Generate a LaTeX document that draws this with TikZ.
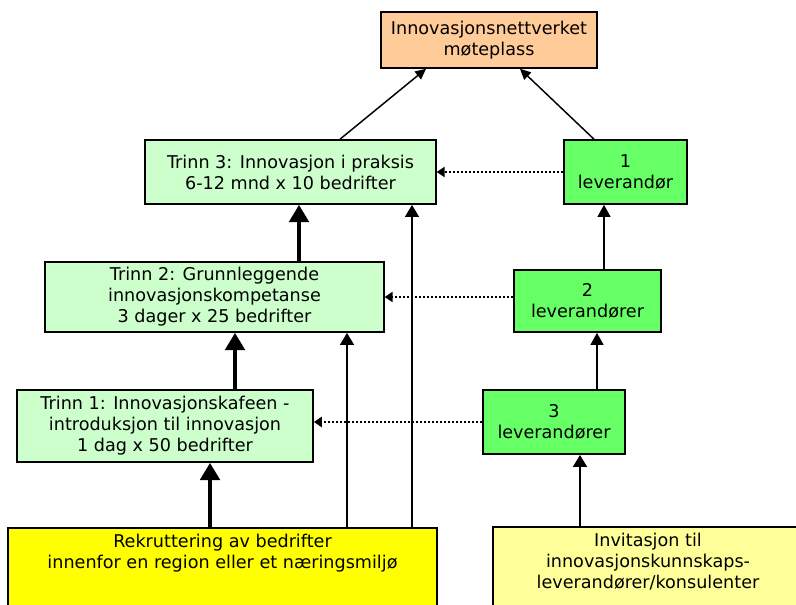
\documentclass[tikz,border=0pt]{standalone}
\usepackage{fontspec}
\setmainfont{DejaVu Sans}
\usetikzlibrary{arrows.meta}

\definecolor{moteorange}{HTML}{FFCC99}
\definecolor{trinngreen}{HTML}{CCFFCC}
\definecolor{levgreen}{HTML}{66FF66}
\definecolor{rekyellow}{HTML}{FFFF00}
\definecolor{invyellow}{HTML}{FFFF99}

\begin{document}
\begin{tikzpicture}[x=0.75pt,y=-0.75pt,
	box/.style={draw,line width=1.2pt,align=center,inner sep=0pt,
		font=\fontsize{13.2}{15.8}\selectfont},
	trinn/.style={box,fill=trinngreen},
	lev/.style={box,fill=levgreen},
	fat/.style={-{Triangle[width=14.5pt,length=13pt]},line width=3.7pt},
	mid/.style={-{Triangle[width=10pt,length=9pt]},line width=2.2pt},
	slim/.style={-{Triangle[width=9.5pt,length=9pt]},line width=1.5pt},
	dots/.style={-{Triangle[width=7.5pt,length=6pt]},line width=1.5pt,dash pattern=on 1.5pt off 1.5pt},
	diag/.style={-{Triangle[width=7.5pt,length=8pt]},line width=1.1pt}]
	\clip(0,0)rectangle(796,605);
	\useasboundingbox(0,0)rectangle(796,605);
	% boxes
	\node[box,fill=moteorange,minimum width=162pt,minimum height=42pt](mote)at(489,40){Innovasjonsnettverket\\møteplass};
	\node[trinn,minimum width=218pt,minimum height=48pt](t3)at(290.5,172){Trinn 3: Innovasjon i praksis\\6-12 mnd x 10 bedrifter};
	\node[trinn,minimum width=254pt,minimum height=52.5pt](t2)at(214.5,297){Trinn 2: Grunnleggende\\innovasjonskompetanse\\3 dager x 25 bedrifter};
	\node[trinn,minimum width=222pt,minimum height=54pt](t1)at(165,426){Trinn 1: Innovasjonskafeen -\\introduksjon til innovasjon\\1 dag x 50 bedrifter};
	\node[lev,minimum width=92pt,minimum height=48pt](lev1)at(625.5,172){1\\leverandør};
	\node[lev,minimum width=110pt,minimum height=46.5pt](lev2)at(587.5,301){2\\leverandører};
	\node[lev,minimum width=106.5pt,minimum height=48pt](lev3)at(554,422){3\\leverandører};
	\node[box,fill=rekyellow,anchor=north,minimum width=322pt,inner ysep=5pt,text depth=60pt](rek)at(222.5,527){Rekruttering av bedrifter\\innenfor en region eller et næringsmiljø};
	\node[box,fill=invyellow,anchor=north,minimum width=232.5pt,inner ysep=5pt,text depth=40pt](inv)at(648,526){Invitasjon til\\innovasjonskunnskaps-\\leverandører/konsulenter};
	% arrows up the left column
	\draw[diag](t3.north -| 340,0)--(mote.south -| 426,0);
	\draw[diag](lev1.north -| 594,0)--(mote.south -| 520,0);
	\draw[fat](t2.north -| 299,0)--(t3.south -| 299,0);
	\draw[fat](t1.north -| 235,0)--(t2.south -| 235,0);
	\draw[fat](rek.north -| 210,0)--(t1.south -| 210,0);
	\draw[mid](rek.north -| 347,0)--(t2.south -| 347,0);
	\draw[mid](rek.north -| 412,0)--(t3.south -| 412,0);
	% suppliers
	\draw[slim](lev2.north -| 604,0)--(lev1.south -| 604,0);
	\draw[slim](lev3.north -| 597,0)--(lev2.south -| 597,0);
	\draw[mid](inv.north -| 580,0)--(lev3.south -| 580,0);
	\draw[dots](lev1.west)--(t3.east);
	\draw[dots](lev2.west |- t2.east)--(t2.east);
	\draw[dots](lev3.west)--(t1.east |- lev3.west);
\end{tikzpicture}
\end{document}
